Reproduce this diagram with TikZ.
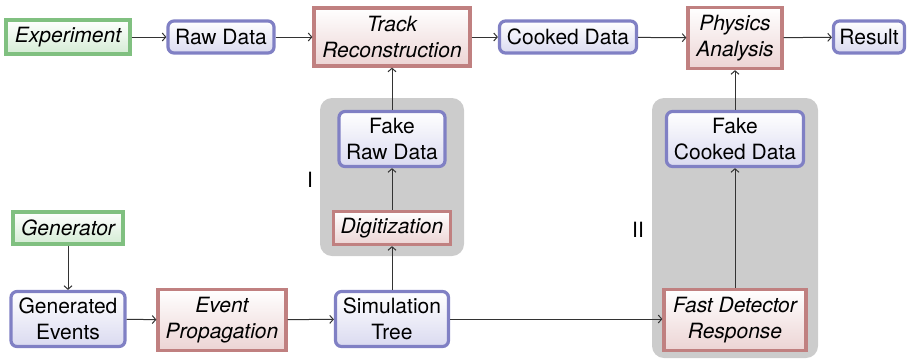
\documentclass[tikz,border=0pt]{standalone}
\usepackage{fontspec}
\setmainfont{TeX Gyre Heros}
\usetikzlibrary{arrows.meta}
\definecolor{bluebd}{RGB}{128,128,196}
\definecolor{bluefl}{RGB}{218,218,240}
\definecolor{redbd}{RGB}{192,128,128}
\definecolor{redfl}{RGB}{236,212,212}
\definecolor{greenbd}{RGB}{128,192,128}
\definecolor{greenfl}{RGB}{212,236,212}
\definecolor{grpfill}{RGB}{204,204,204}
\tikzset{
  box/.style={line width=3.2pt, inner sep=0pt, align=center,
    font=\fontsize{21}{26.5}\selectfont},
  datab/.style={box, draw=bluebd, rounded corners=6pt, top color=white, bottom color=bluefl},
  procb/.style={box, draw=redbd, top color=white, bottom color=redfl, font=\fontsize{21}{26.5}\selectfont\itshape},
  srcb/.style={box, draw=greenbd, top color=white, bottom color=greenfl, font=\fontsize{21}{26.5}\selectfont\itshape},
  grp/.style={fill=grpfill, rounded corners=12pt, inner sep=0pt},
  lbl/.style={font=\fontsize{21}{26.5}\selectfont, inner sep=0pt},
  arr/.style={line width=1pt, -{Straight Barb[length=3.5pt,width=8pt]}, black!80}
}
\begin{document}
\begin{tikzpicture}[x=1pt,y=-1pt]
\useasboundingbox (0,0) rectangle (909,360);
% groups
\node[grp, minimum width=144pt, minimum height=158pt] (g1) at (392,177) {};
\node[grp, minimum width=166pt, minimum height=260pt] (g2) at (735,228) {};
\node[lbl] (l1) at (310,180) {I};
\node[lbl] (l2) at (638,230) {II};
% top row
\node[srcb, minimum width=124pt, minimum height=34pt] (exp) at (68,37) {Experiment};
\node[datab, minimum width=106pt, minimum height=32pt] (raw) at (221,37) {Raw Data};
\node[procb, minimum width=156pt, minimum height=58pt] (trk) at (392,37) {Track\\Reconstruction};
\node[datab, minimum width=137pt, minimum height=32pt] (ckd) at (568,37) {Cooked Data};
\node[procb, minimum width=94pt, minimum height=61pt] (phy) at (735,38) {Physics\\Analysis};
\node[datab, minimum width=71pt, minimum height=32pt] (res) at (869,37) {Result};
% group I
\node[datab, minimum width=106pt, minimum height=55pt] (frd) at (392,139) {Fake\\Raw Data};
\node[procb, minimum width=117pt, minimum height=33pt] (dig) at (392,228) {Digitization};
% group II
\node[datab, minimum width=137pt, minimum height=55pt] (fcd) at (735,139) {Fake\\Cooked Data};
\node[procb, minimum width=142pt, minimum height=61pt] (fdr) at (735,320) {Fast Detector\\Response};
% bottom
\node[srcb, minimum width=110pt, minimum height=32pt] (gen) at (68,228) {Generator};
\node[datab, minimum width=114pt, minimum height=55pt] (gev) at (68,319) {Generated\\Events};
\node[procb, minimum width=128pt, minimum height=61pt] (evp) at (222,320) {Event\\Propagation};
\node[datab, minimum width=113pt, minimum height=55pt] (sim) at (392,319) {Simulation\\Tree};
% arrows
\draw[arr] (exp) -- (raw);
\draw[arr] (raw) -- (trk);
\draw[arr] (trk) -- (ckd);
\draw[arr] (ckd) -- (phy);
\draw[arr] (phy) -- (res);
\draw[arr] (frd) -- (trk);
\draw[arr] (dig) -- (frd);
\draw[arr] (sim) -- (dig);
\draw[arr] (gen) -- (gev);
\draw[arr] (gev) -- (evp);
\draw[arr] (evp) -- (sim);
\draw[arr] (sim.east) -- (sim.east -| fdr.west);
\draw[arr] (fdr) -- (fcd);
\draw[arr] (fcd) -- (phy);
\end{tikzpicture}
\end{document}
